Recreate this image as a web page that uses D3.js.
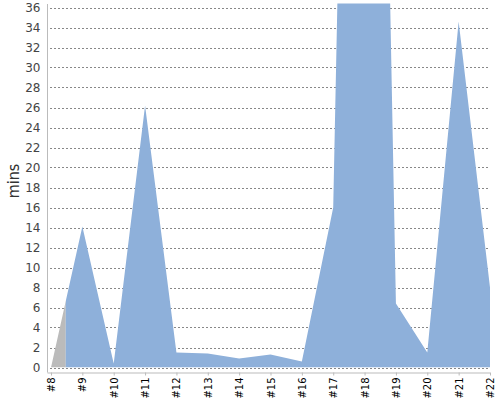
<!DOCTYPE html>
<html>
<head>
<meta charset="utf-8">
<script src="https://cdn.jsdelivr.net/npm/d3@7/dist/d3.min.js"></script>
<style>
  body { margin: 0; background: #fff; }
  svg text { font-family: "DejaVu Sans", sans-serif; }
</style>
</head>
<body>
<svg id="chart" width="500" height="400"></svg>
<script>
// data
var categories = ['#8', '#9', '#10', '#11', '#12', '#13', '#14', '#15', '#16', '#17', '#18', '#19', '#20', '#21', '#22'];
var minutes = [0, 14.1, 0.4, 26.2, 1.5, 1.4, 0.9, 1.3, 0.6, 16, 170, 6.4, 1.5, 34.6, 8];
var yTicks = [0, 2, 4, 6, 8, 10, 12, 14, 16, 18, 20, 22, 24, 26, 28, 30, 32, 34, 36];
var greyUntil = 0.47; // index position where the grey part stops

var svg = d3.select('#chart');
var margin = {left: 51, right: 10, top: 7.5, bottom: 32.5};
var width = 500 - margin.left - margin.right,
    height = 400 - margin.top - margin.bottom;

var x = d3.scaleLinear().domain([0, categories.length - 1]).range([margin.left, margin.left + width]);
var y = d3.scaleLinear().domain([0, 36]).range([margin.top + height, margin.top]);

// clip so the huge #18 value is cut at the top
var defs = svg.append('defs');
defs.append('clipPath').attr('id', 'plotClip')
  .append('rect').attr('x', x(0)).attr('y', 3.5)
  .attr('width', x(greyUntil) - x(0) + 0.01).attr('height', y(0) - 3.5);
defs.append('clipPath').attr('id', 'plotClip2')
  .append('rect').attr('x', x(greyUntil)).attr('y', 3.5)
  .attr('width', x(categories.length - 1) - x(greyUntil) + 1).attr('height', y(0) - 3.5);

// gridlines
svg.append('g').attr('class', 'grid')
  .selectAll('line').data(yTicks).enter().append('line')
  .attr('x1', margin.left - 1).attr('x2', x(categories.length - 1))
  .attr('y1', function(d) { return Math.round(y(d)) + 0.5; })
  .attr('y2', function(d) { return Math.round(y(d)) + 0.5; })
  .attr('stroke', '#888')
  .attr('stroke-dasharray', '2,2')
  .attr('shape-rendering', 'crispEdges');

var area = d3.area()
  .x(function(d, i) { return x(i); })
  .y0(y(0))
  .y1(function(d) { return y(d); });

svg.append('path').datum(minutes)
  .attr('d', area)
  .attr('fill', '#bbbbbb')
  .attr('clip-path', 'url(#plotClip)');

svg.append('path').datum(minutes)
  .attr('d', area)
  .attr('fill', '#8eb0da')
  .attr('clip-path', 'url(#plotClip2)');

// y axis
var yAxis = svg.append('g')
  .attr('transform', 'translate(47.5,0)')
  .call(d3.axisLeft(y).tickValues(yTicks).tickSize(0).tickPadding(7));
yAxis.select('.domain').attr('stroke', '#bbb').attr('d', 'M0,4V' + (y(0) + 5));
yAxis.selectAll('text').attr('font-size', 12).attr('fill', '#444');

// x axis
var xAxis = svg.append('g')
  .attr('transform', 'translate(0,' + (y(0) + 5) + ')')
  .call(d3.axisBottom(x).ticks(categories.length).tickValues(d3.range(categories.length))
    .tickFormat(function(i) { return categories[i]; }).tickSize(3).tickSizeOuter(0));
xAxis.select('.domain').attr('stroke', '#bbb').attr('d', 'M47.5,0.5H' + x(categories.length - 1));
xAxis.selectAll('.tick line').attr('stroke', '#bbb');
xAxis.selectAll('text')
  .attr('font-size', 10)
  .attr('fill', '#000')
  .attr('text-anchor', 'end')
  .attr('transform', 'rotate(-90)')
  .attr('x', -5)
  .attr('y', 0)
  .attr('dy', '0.35em');

// axis title
svg.append('text')
  .attr('transform', 'translate(19,181) rotate(-90)')
  .attr('text-anchor', 'middle')
  .attr('font-size', 16)
  .style('font-family', '"DejaVu Sans Condensed", "DejaVu Sans", sans-serif')
  .attr('fill', '#333')
  .text('mins');
</script>
</body>
</html>
